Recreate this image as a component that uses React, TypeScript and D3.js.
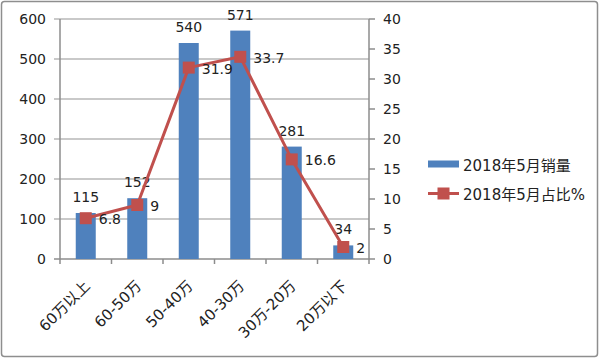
import React from "react";
import * as d3 from "d3";

const categories = ["60万以上", "60-50万", "50-40万", "40-30万", "30万-20万", "20万以下"];
const sales = [115, 152, 540, 571, 281, 34];
const share = [6.8, 9, 31.9, 33.7, 16.6, 2];
const leftTicks = [0, 100, 200, 300, 400, 500, 600];
const rightTicks = [0, 5, 10, 15, 20, 25, 30, 35, 40];
const salesName = "2018年5月销量";
const shareName = "2018年5月占比%";

const App = () => {
  const ref = React.useRef<SVGSVGElement>(null);

  React.useEffect(() => {
    document.body.style.margin = "0";
    const svg = d3.select(ref.current);
    svg.selectAll("*").remove();

    const font = '"DejaVu Sans", "Noto Sans CJK SC", sans-serif';
    const blue = "#4F81BD";
    const red = "#C0504D";
    const grid = "#B7B7B7";
    const axisCol = "#8C8C8C";

    const left = 60, right = 369, top = 19, bottom = 259;

    // outer border
    svg.append("rect")
      .attr("x", 1.5).attr("y", 1.5)
      .attr("width", 596).attr("height", 355)
      .attr("rx", 3)
      .attr("fill", "white")
      .attr("stroke", "#8E8E8E")
      .attr("stroke-width", 1.5);

    const x = d3.scaleBand().domain(categories).range([left, right]).paddingInner(0).paddingOuter(0);
    const yL = d3.scaleLinear().domain([0, 600]).range([bottom, top]);
    const yR = d3.scaleLinear().domain([0, 40]).range([bottom, top]);

    // gridlines + left ticks
    const g = svg.append("g");
    leftTicks.forEach(t => {
      g.append("line")
        .attr("x1", left - 6).attr("x2", right)
        .attr("y1", yL(t)).attr("y2", yL(t))
        .attr("stroke", t === 0 ? axisCol : grid)
        .attr("stroke-width", 1.5);
      g.append("text")
        .attr("x", left - 14).attr("y", yL(t) + 5)
        .attr("text-anchor", "end")
        .attr("font-family", font).attr("font-size", "14px")
        .attr("fill", "#222")
        .text(t);
    });

    // axes
    g.append("line").attr("x1", left).attr("x2", left).attr("y1", top).attr("y2", bottom)
      .attr("stroke", axisCol).attr("stroke-width", 1.5);
    g.append("line").attr("x1", right).attr("x2", right).attr("y1", top).attr("y2", bottom + 5)
      .attr("stroke", axisCol).attr("stroke-width", 1.5);

    rightTicks.forEach(t => {
      g.append("line")
        .attr("x1", right).attr("x2", right + 6)
        .attr("y1", yR(t)).attr("y2", yR(t))
        .attr("stroke", axisCol).attr("stroke-width", 1.5);
      g.append("text")
        .attr("x", right + 14).attr("y", yR(t) + 5)
        .attr("text-anchor", "start")
        .attr("font-family", font).attr("font-size", "14px")
        .attr("fill", "#222")
        .text(t);
    });

    // x ticks + rotated labels
    categories.forEach((c) => {
      g.append("line")
        .attr("x1", x(c)!).attr("x2", x(c)!)
        .attr("y1", bottom).attr("y2", bottom + 5)
        .attr("stroke", axisCol).attr("stroke-width", 1.5);
      const cx = x(c)! + x.bandwidth() / 2;
      g.append("text")
        .attr("transform", `translate(${cx + 5},${bottom + 28}) rotate(-45)`)
        .attr("text-anchor", "end")
        .attr("font-family", font).attr("font-size", "15px")
        .attr("fill", "#222")
        .text(c);
    });

    // bars
    const bw = 20;
    categories.forEach((c, i) => {
      const cx = x(c)! + x.bandwidth() / 2;
      svg.append("rect")
        .attr("x", cx - bw / 2).attr("y", yL(sales[i]))
        .attr("width", bw).attr("height", bottom - yL(sales[i]))
        .attr("fill", blue);
      svg.append("text")
        .attr("x", cx).attr("y", yL(sales[i]) - 11)
        .attr("text-anchor", "middle")
        .attr("font-family", font).attr("font-size", "14px")
        .attr("fill", "#222")
        .text(sales[i]);
    });

    // line
    const line = d3.line<number>()
      .x((d, i) => x(categories[i])! + x.bandwidth() / 2)
      .y(d => yR(d));
    svg.append("path")
      .attr("d", line(share))
      .attr("fill", "none")
      .attr("stroke", red)
      .attr("stroke-width", 3)
      .attr("stroke-linejoin", "round");

    share.forEach((v, i) => {
      const cx = x(categories[i])! + x.bandwidth() / 2;
      svg.append("rect")
        .attr("x", cx - 6).attr("y", yR(v) - 6)
        .attr("width", 12).attr("height", 12)
        .attr("fill", red);
      svg.append("text")
        .attr("x", cx + 13).attr("y", yR(v) + 6)
        .attr("text-anchor", "start")
        .attr("font-family", font).attr("font-size", "14px")
        .attr("fill", "#222")
        .text(v);
    });

    // legend
    const lg = svg.append("g");
    lg.append("rect")
      .attr("x", 428).attr("y", 160.5)
      .attr("width", 31).attr("height", 7)
      .attr("fill", blue);
    lg.append("text")
      .attr("x", 463).attr("y", 170.5)
      .attr("font-family", font).attr("font-size", "15px")
      .attr("fill", "#222")
      .text(salesName);
    lg.append("line")
      .attr("x1", 428).attr("x2", 459)
      .attr("y1", 193.5).attr("y2", 193.5)
      .attr("stroke", red).attr("stroke-width", 3);
    lg.append("rect")
      .attr("x", 437.5).attr("y", 187.5)
      .attr("width", 12).attr("height", 12)
      .attr("fill", red);
    lg.append("text")
      .attr("x", 463).attr("y", 199.5)
      .attr("font-family", font).attr("font-size", "15px")
      .attr("fill", "#222")
      .text(shareName);
  }, []);

  return <svg ref={ref} width={600} height={359} style={{ display: "block" }}></svg>;
};

export default App;
